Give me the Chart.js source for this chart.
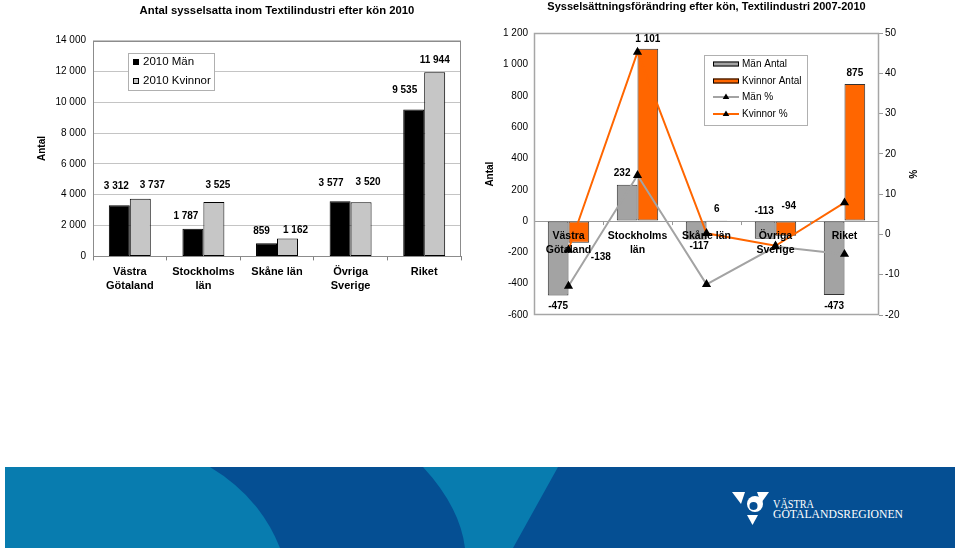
<!DOCTYPE html>
<html lang="sv">
<head>
<meta charset="UTF-8">
<title>Textilindustri efter kön</title>
<script src="https://cdn.jsdelivr.net/npm/chart.js"></script>
<style>
    body {
        margin: 0;
        width: 960px;
        height: 551px;
        position: relative;
        overflow: hidden;
        background: #fff;
        font-family: 'Liberation Sans', Arial, sans-serif;
    }
    #leftChart { position: absolute; left: 0; top: 0; }
    #rightChart { position: absolute; left: 480px; top: 0; }
    .band { position: absolute; left: 5px; top: 467px; }
</style>
</head>
<body>
<canvas id="leftChart" width="480" height="320"></canvas>
<canvas id="rightChart" width="480" height="330"></canvas>

<!-- bottom band with logo -->
<svg class="band" width="950" height="81" viewBox="0 0 950 81">
    <rect width="950" height="81" fill="#054f93"/>
    <path d="M0 0 H205 Q255 30 275 81 H0 Z" fill="#087caf"/>
    <path d="M418 0 H553 L508 81 H460 Q455 40 418 0 Z" fill="#087caf"/>
    <polygon points="727,25 740,25 736,37" fill="#fff"/>
    <circle cx="750" cy="37" r="8" fill="#fff"/>
    <circle cx="748.5" cy="39" r="4" fill="#054f93"/>
    <polygon points="752,25 764,25 756,36" fill="#fff"/>
    <polygon points="742,48 753,48 747.5,58" fill="#fff"/>
    <text x="768" y="40.5" fill="#fff" font-family="'Liberation Serif', serif" font-size="13" textLength="41" lengthAdjust="spacingAndGlyphs">VÄSTRA</text>
    <text x="768" y="51" fill="#fff" font-family="'Liberation Serif', serif" font-size="13" textLength="130" lengthAdjust="spacingAndGlyphs">GÖTALANDSREGIONEN</text>
</svg>

<script>
    // ---- data: employed 2010 by sex ----
    const regions = [['Västra', 'Götaland'], ['Stockholms', 'län'], 'Skåne län', ['Övriga', 'Sverige'], 'Riket'];
    const man2010 = [3312, 1787, 859, 3577, 9535];
    const kvinnor2010 = [3737, 3525, 1162, 3520, 11944];
    const antalTicks2010 = [0, 2000, 4000, 6000, 8000, 10000, 12000, 14000];

    // ---- data: change 2007-2010 ----
    const manAntal = [-475, 232, -117, -113, -473];
    const kvinnorAntal = [-138, 1101, 6, -94, 875];
    const manPct = [-12.8, 14.7, -12.4, -3.0, -4.9];
    const kvinnorPct = [-3.8, 45.3, 0.3, -2.8, 7.9];
    const antalTicksChange = [-600, -400, -200, 0, 200, 400, 600, 800, 1000, 1200];
    const pctTicks = [-20, -10, 0, 10, 20, 30, 40, 50];

    Chart.defaults.font.family = "'Liberation Sans', Arial, sans-serif";
    Chart.defaults.color = '#000';

    const fmt = v => String(v).replace(/\B(?=(\d{3})+(?!\d))/g, ' ');
    const fixedTicks = list => s => { s.ticks = list.map(v => ({ value: v })); };

    // grey frame round the plot area
    const plotBorder = {
        id: 'plotBorder',
        beforeDatasetsDraw(chart, args, opts) {
            const a = chart.chartArea, ctx = chart.ctx;
            ctx.save();
            ctx.strokeStyle = opts.color;
            ctx.lineWidth = opts.width;
            ctx.strokeRect(Math.round(a.left) + 0.5, Math.round(a.top) + 0.5,
                Math.round(a.width) - 1, Math.round(a.height) - 1);
            ctx.restore();
        }
    };

    // numbers on bars (nudges copy the hand-placed labels of the original)
    const valueLabels = {
        id: 'valueLabels',
        afterDatasetsDraw(chart, args, opts) {
            const ctx = chart.ctx;
            ctx.save();
            ctx.font = opts.font;
            ctx.fillStyle = '#000';
            ctx.textAlign = 'center';
            ctx.textBaseline = 'middle';
            chart.data.datasets.forEach((ds, i) => {
                if (ds.type === 'line') return;
                const meta = chart.getDatasetMeta(i);
                const nudge = opts.nudges[i] || [];
                meta.data.forEach((bar, j) => {
                    const v = ds.data[j];
                    const [dx, dy] = nudge[j] || [0, 0];
                    const y = v >= 0 ? bar.y - opts.gap : bar.y + opts.gap;
                    ctx.fillText(fmt(v), bar.x + dx, y + dy);
                });
            });
            ctx.restore();
        }
    };

    // category names sitting on the zero line (right chart)
    const zeroAxisLabels = {
        id: 'zeroAxisLabels',
        afterDatasetsDraw(chart, args, opts) {
            if (!opts.enabled) return;
            const ctx = chart.ctx, xs = chart.scales.x, y0 = chart.scales.y.getPixelForValue(0);
            const half = (xs.getPixelForValue(1) - xs.getPixelForValue(0)) / 2;
            ctx.save();
            ctx.strokeStyle = '#999';
            ctx.lineWidth = 1;
            for (let i = 1; i < chart.data.labels.length; i++) {
                const bx = Math.round(xs.getPixelForValue(i) - half) + 0.5;
                ctx.beginPath(); ctx.moveTo(bx, y0); ctx.lineTo(bx, y0 + 4); ctx.stroke();
            }
            ctx.font = opts.font;
            ctx.fillStyle = '#000';
            ctx.textAlign = 'center';
            ctx.textBaseline = 'middle';
            chart.data.labels.forEach((lab, i) => {
                const lines = Array.isArray(lab) ? lab : [lab];
                lines.forEach((t, k) => ctx.fillText(t, xs.getPixelForValue(i), y0 + 15 + k * 14));
            });
            ctx.restore();
        }
    };

    function triangle(ctx, x, y, r) {
        ctx.beginPath();
        ctx.moveTo(x, y - r);
        ctx.lineTo(x + r * 0.95, y + r * 0.6);
        ctx.lineTo(x - r * 0.95, y + r * 0.6);
        ctx.closePath();
        ctx.fill();
    }

    // framed legend drawn inside the plot
    const boxLegend = {
        id: 'boxLegend',
        afterDraw(chart, args, o) {
            const ctx = chart.ctx;
            ctx.save();
            ctx.fillStyle = '#fff';
            ctx.fillRect(o.x, o.y, o.w, o.h);
            ctx.strokeStyle = '#b0b0b0';
            ctx.lineWidth = 1;
            ctx.strokeRect(o.x + 0.5, o.y + 0.5, o.w, o.h);
            ctx.font = o.font;
            ctx.textBaseline = 'middle';
            chart.data.datasets.forEach((ds, i) => {
                const cy = o.rowY[i];
                if (ds.type === 'line') {
                    ctx.strokeStyle = ds.borderColor;
                    ctx.lineWidth = 2;
                    ctx.beginPath(); ctx.moveTo(o.symX, cy); ctx.lineTo(o.symX + o.symW, cy); ctx.stroke();
                    ctx.fillStyle = ds.pointBackgroundColor;
                    triangle(ctx, o.symX + o.symW / 2, cy, 3.5);
                } else {
                    ctx.fillStyle = ds.backgroundColor;
                    ctx.fillRect(o.symX, cy - o.symH / 2, o.symW, o.symH);
                    ctx.strokeStyle = '#000';
                    ctx.lineWidth = 1;
                    ctx.strokeRect(o.symX + 0.5, cy - o.symH / 2 + 0.5, o.symW - 1, o.symH - 1);
                }
                ctx.fillStyle = '#000';
                ctx.fillText(ds.label, o.textX, cy);
            });
            ctx.restore();
        }
    };

    // Left chart: employed 2010
    new Chart(document.getElementById('leftChart'), {
        type: 'bar',
        data: {
            labels: regions,
            datasets: [
                { label: '2010 Män', data: man2010, backgroundColor: '#000', borderColor: '#000',
                  borderWidth: 1, borderSkipped: false },
                { label: '2010 Kvinnor', data: kvinnor2010, backgroundColor: '#c6c6c6', borderColor: '#000',
                  borderWidth: 1, borderSkipped: false }
            ]
        },
        options: {
            responsive: false,
            animation: false,
            devicePixelRatio: 1,
            layout: { padding: { left: 32, right: 19, top: 0, bottom: 23 } },
            datasets: { bar: { categoryPercentage: 0.57, barPercentage: 1 } },
            scales: {
                x: {
                    grid: { display: true, drawOnChartArea: false, tickLength: 4, color: '#808080' },
                    border: { color: '#808080' },
                    ticks: { font: { size: 11, weight: 'bold', lineHeight: 1.3 }, padding: 4,
                             maxRotation: 0, autoSkip: false }
                },
                y: {
                    min: antalTicks2010[0],
                    max: antalTicks2010[antalTicks2010.length - 1],
                    afterBuildTicks: fixedTicks(antalTicks2010),
                    afterFit: s => { s.width = 61; },
                    grid: { color: '#c4c4c4', drawTicks: false },
                    border: { display: false },
                    ticks: { font: { size: 10 }, padding: 7, callback: v => fmt(v) },
                    title: { display: true, text: 'Antal', font: { size: 10, weight: 'bold' }, padding: { top: 4, bottom: 4 } }
                }
            },
            plugins: {
                legend: { display: false },
                tooltip: { enabled: false },
                title: {
                    display: true, fullSize: false,
                    text: 'Antal sysselsatta inom Textilindustri efter kön 2010',
                    color: '#000', font: { size: 11.3, weight: 'bold' },
                    padding: { top: 4, bottom: 23 }
                },
                plotBorder: { color: '#8c8c8c', width: 1 },
                valueLabels: {
                    font: 'bold 10px "Liberation Sans", Arial, sans-serif',
                    gap: 15,
                    nudges: [
                        [[-3, -4], [-7, 2], [-5, 3], [-9, -3], [-9, -4]],
                        [[12, 1], [4, -2], [8, 7], [7, -5], [0, 3]]
                    ]
                },
                zeroAxisLabels: { enabled: false },
                boxLegend: {
                    x: 128, y: 53, w: 86, h: 37, rowY: [62, 81],
                    symX: 133, symW: 6, symH: 6, textX: 143,
                    font: '11.5px "Liberation Sans", Arial, sans-serif'
                }
            }
        },
        plugins: [plotBorder, valueLabels, zeroAxisLabels, boxLegend]
    });

    // Right chart: change 2007-2010
    new Chart(document.getElementById('rightChart'), {
        type: 'bar',
        data: {
            labels: regions,
            datasets: [
                { label: 'Män Antal', data: manAntal, backgroundColor: '#a3a3a3', borderColor: '#333',
                  borderWidth: 1, borderSkipped: false, yAxisID: 'y', order: 1 },
                { label: 'Kvinnor Antal', data: kvinnorAntal, backgroundColor: '#ff6600', borderColor: '#333',
                  borderWidth: 1, borderSkipped: false, yAxisID: 'y', order: 1 },
                { type: 'line', label: 'Män %', data: manPct, yAxisID: 'y1', order: 0,
                  borderColor: '#a3a3a3', borderWidth: 2, tension: 0,
                  pointStyle: 'triangle', pointRadius: 3.3, pointBackgroundColor: '#000', pointBorderColor: '#000' },
                { type: 'line', label: 'Kvinnor %', data: kvinnorPct, yAxisID: 'y1', order: 0,
                  borderColor: '#ff6600', borderWidth: 2, tension: 0,
                  pointStyle: 'triangle', pointRadius: 3.3, pointBackgroundColor: '#000', pointBorderColor: '#000' }
            ]
        },
        options: {
            responsive: false,
            animation: false,
            devicePixelRatio: 1,
            layout: { padding: { left: 0, right: 38, top: 0, bottom: 15 } },
            datasets: { bar: { categoryPercentage: 0.6, barPercentage: 1 } },
            scales: {
                x: { display: false },
                y: {
                    position: 'left',
                    min: antalTicksChange[0],
                    max: antalTicksChange[antalTicksChange.length - 1],
                    afterBuildTicks: fixedTicks(antalTicksChange),
                    afterFit: s => { s.width = 54; },
                    grid: { color: c => (c.tick && c.tick.value === 0 ? '#9a9a9a' : 'transparent'), drawTicks: false },
                    border: { display: false },
                    ticks: { font: { size: 10 }, padding: 6, callback: v => fmt(v) },
                    title: { display: true, text: 'Antal', font: { size: 10, weight: 'bold' }, padding: { top: 4, bottom: 4 } }
                },
                y1: {
                    position: 'right',
                    min: pctTicks[0],
                    max: pctTicks[pctTicks.length - 1],
                    afterBuildTicks: fixedTicks(pctTicks),
                    afterFit: s => { s.width = 43; },
                    grid: { drawOnChartArea: false, tickLength: 4, color: '#9a9a9a' },
                    border: { display: false },
                    ticks: { font: { size: 10 }, padding: 2 },
                    title: { display: true, text: '%', font: { size: 10, weight: 'bold' }, padding: { top: 4, bottom: 4 } }
                }
            },
            plugins: {
                legend: { display: false },
                tooltip: { enabled: false },
                title: {
                    display: true, fullSize: false,
                    text: 'Sysselsättningsförändring efter kön, Textilindustri 2007-2010',
                    color: '#000', font: { size: 11, weight: 'bold' },
                    padding: { top: 0, bottom: 20 }
                },
                plotBorder: { color: '#a6a6a6', width: 1.5 },
                valueLabels: {
                    font: 'bold 10px "Liberation Sans", Arial, sans-serif',
                    gap: 11,
                    nudges: [
                        [[0, 0], [-5, 0], [3, -4], [-1, -39], [0, 0]],
                        [[22, 4], [0, 2], [0, 0], [3, -41], [0, 0]]
                    ]
                },
                zeroAxisLabels: { enabled: true, font: 'bold 10.5px "Liberation Sans", Arial, sans-serif' },
                boxLegend: {
                    x: 224, y: 55, w: 103, h: 70, rowY: [64, 81, 97, 114],
                    symX: 233, symW: 26, symH: 5, textX: 262,
                    font: '10px "Liberation Sans", Arial, sans-serif'
                }
            }
        },
        plugins: [plotBorder, valueLabels, zeroAxisLabels, boxLegend]
    });
</script>
</body>
</html>
